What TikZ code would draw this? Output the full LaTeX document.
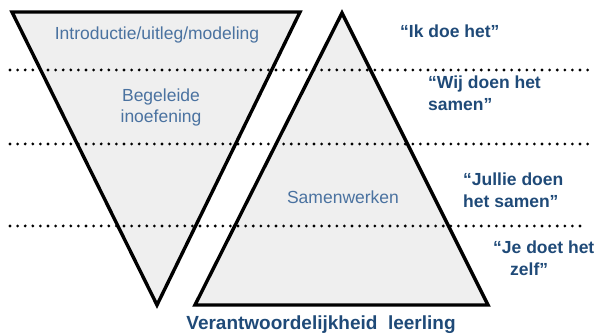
\documentclass[tikz,border=0pt]{standalone}
\usepackage{fontspec}
\setmainfont{Liberation Sans}
\definecolor{fillgray}{HTML}{EFEFEF}
\definecolor{softblue}{HTML}{4A72A0}
\definecolor{deepblue}{HTML}{1F4A78}
\tikzset{
  phase/.style={text=softblue, font=\fontsize{17.5}{21}\selectfont, align=center, inner sep=0pt},
  motto/.style={text=deepblue, font=\fontsize{17.5}{21.5}\selectfont\bfseries, align=left, inner sep=0pt, anchor=west},
  divider/.style={line width=3.1pt, dash pattern=on 0pt off 7.6pt, line cap=round}
}
\begin{document}
\begin{tikzpicture}[x=1pt,y=-1pt]
  \useasboundingbox (0,0) rectangle (597,336);
  % Define the two triangles
  \def\triDown{(12,12) -- (300,12) -- (157,305) -- cycle}
  \def\triUp{(342,13) -- (488,305) -- (195,305) -- cycle}

  % Fill both triangles
  \fill[fillgray] \triDown;
  \fill[fillgray] \triUp;

  % Dotted dividers between the phases
  \draw[divider] (10,70) -- (590,70);
  \draw[divider] (10,144) -- (590,144);
  \draw[divider] (10,226) -- (580,226);

  % Outline the triangles
  \draw[line width=3.4pt] \triDown;
  \draw[line width=3.4pt] \triUp;

  % Phase labels inside the triangles
  \node[phase] (intro) at (157,35) {Introductie/uitleg/modeling};
  \node[phase] (begel) at (161,107) {Begeleide\\inoefening};
  \node[phase] (samen) at (343,197) {Samenwerken};

  % Mottos on the right
  \node[motto] (ik) at (400,31) {“Ik doe het”};
  \node[motto] (wij) at (428,93) {“Wij doen het\\samen”};
  \node[motto] (jullie) at (463,190) {“Jullie doen\\het samen”};
  \node[motto] (je) at (493,258) {“Je doet het\\\hspace{17pt}zelf”};

  % Caption below
  \node[motto, anchor=center, font=\fontsize{19}{22}\selectfont\bfseries] (caption) at (321,325) {Verantwoordelijkheid\ \ leerling};
\end{tikzpicture}
\end{document}
